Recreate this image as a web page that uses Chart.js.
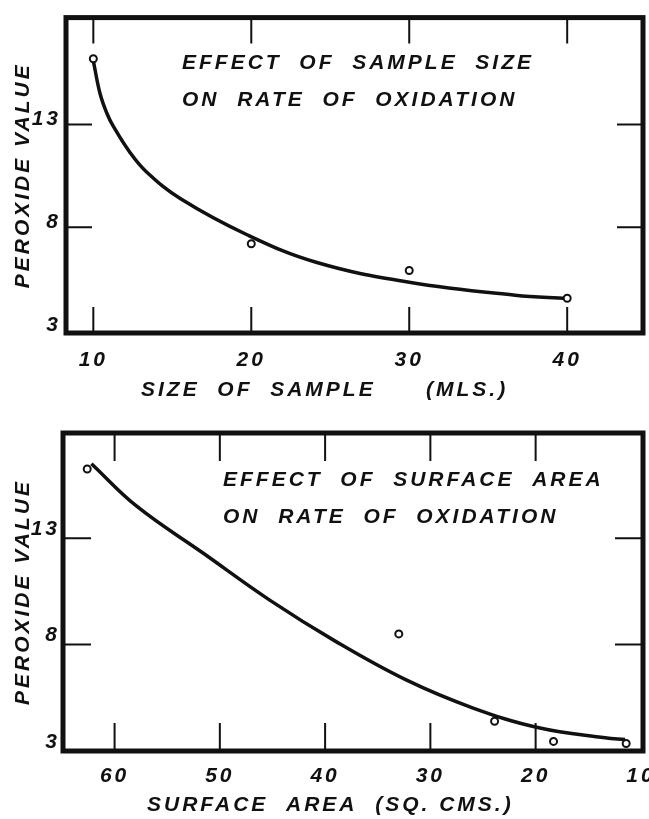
<!DOCTYPE html>
<html>
<head>
<meta charset="utf-8">
<script src="https://cdn.jsdelivr.net/npm/chart.js@4.4.1/dist/chart.umd.min.js"></script>
<style>
  html, body { margin: 0; padding: 0; background: #fff; }
  canvas { display: block; }
</style>
</head>
<body>
<canvas id="size-chart" width="649" height="410"></canvas>
<canvas id="area-chart" width="649" height="409"></canvas>
<script>
// top panel - size of sample (mls.)
const sizeTicks = [10, 20, 30, 40];
const sizeMl = [10, 20, 30, 40];
const sizePeroxide = [16.2, 7.2, 5.9, 4.55];
// points
const sizeCurveMl = [10, 10.42, 10.85, 11.26, 12.32, 13.37, 15.5, 19.7, 24.1, 30, 36.7, 40];
const sizeCurvePeroxide = [16.1, 14.52, 13.56, 12.92, 11.64, 10.69, 9.4, 7.65, 6.3, 5.33, 4.7, 4.54];

// bottom panel - surface area (sq. cms.)
const areaTicks = [10, 20, 30, 40, 50, 60];
const areaSqCm = [62.6, 33, 23.9, 18.3, 11.4];
const areaPeroxide = [16.25, 8.5, 4.4, 3.45, 3.35];
const areaCurveSqCm = [62.2, 57.9, 51.6, 45.3, 39, 32.35, 26, 19.7, 13.4, 11.5];
const areaCurvePeroxide = [16.5, 14.5, 12.3, 10.1, 8.15, 6.35, 5.03, 4.09, 3.62, 3.54];

const peroxideTicks = [3, 8, 13];

const ink = '#111';
const family = '"Liberation Sans", Arial, sans-serif';
const letterFont = { family, size: 21, style: 'italic', weight: 'bold' };
const spacing = '3px';

const toPoints = (xs, ys) => xs.map((x, i) => ({ x, y: ys[i] }));

// thick box, inner tick marks and the hand-lettered notes
const frame = {
  id: 'frame',
  beforeDraw(chart) {
    chart.ctx.letterSpacing = spacing;
  },
  afterDraw(chart, args, opts) {
    const { ctx, chartArea: a, scales: { x, y } } = chart;
    ctx.save();
    ctx.strokeStyle = ink;
    ctx.lineWidth = 2;
    ctx.beginPath();
    x.ticks.forEach(t => {
      const px = x.getPixelForValue(t.value);
      if (px < a.left + 6 || px > a.right - 6) return;
      ctx.moveTo(px, a.top);
      ctx.lineTo(px, a.top + opts.tick);
      ctx.moveTo(px, a.bottom);
      ctx.lineTo(px, a.bottom - opts.tick);
    });
    y.ticks.forEach(t => {
      const py = y.getPixelForValue(t.value);
      if (py < a.top + 6 || py > a.bottom - 6) return;
      ctx.moveTo(a.left, py);
      ctx.lineTo(a.left + opts.tick, py);
      ctx.moveTo(a.right, py);
      ctx.lineTo(a.right - opts.tick, py);
    });
    ctx.stroke();
    ctx.lineWidth = 5;
    ctx.strokeRect(a.left, a.top, a.right - a.left, a.bottom - a.top);

    ctx.fillStyle = ink;
    ctx.font = 'bold italic 21px ' + family;
    ctx.letterSpacing = spacing;
    ctx.textBaseline = 'middle';
    ctx.textAlign = 'left';
    opts.notes.forEach(n => ctx.fillText(n.text, n.x, n.y));
    ctx.restore();
  }
};

function panel(id, cfg) {
  return new Chart(document.getElementById(id), {
    type: 'scatter',
    data: {
      datasets: [{
        data: toPoints(cfg.pointX, cfg.pointY),
        pointRadius: 3.5,
        pointBorderWidth: 2,
        pointBorderColor: ink,
        pointBackgroundColor: '#fff',
        showLine: false
      }, {
        data: toPoints(cfg.curveX, cfg.curveY),
        showLine: true,
        borderColor: ink,
        borderWidth: 3.5,
        pointRadius: 0,
        tension: 0.4,
        fill: false
      }]
    },
    options: {
      responsive: false,
      animation: false,
      events: [],
      layout: { padding: cfg.padding },
      plugins: {
        legend: { display: false },
        tooltip: { enabled: false },
        frame: { tick: cfg.tick, notes: cfg.notes }
      },
      scales: {
        x: {
          type: 'linear',
          min: cfg.xMin,
          max: cfg.xMax,
          reverse: cfg.reverse,
          grid: { display: false, drawTicks: false },
          border: { display: false },
          afterBuildTicks: s => { s.ticks = cfg.xTicks.map(v => ({ value: v })); },
          afterFit: s => { s.height = cfg.xHeight; },
          ticks: { font: letterFont, color: ink, padding: cfg.xPad, autoSkip: false, maxRotation: 0 }
        },
        y: {
          type: 'linear',
          min: cfg.yMin,
          max: cfg.yMax,
          grid: { display: false, drawTicks: false },
          border: { display: false },
          afterBuildTicks: s => { s.ticks = peroxideTicks.map(v => ({ value: v })); },
          afterFit: s => { s.width = cfg.yWidth; },
          ticks: { font: letterFont, color: ink, padding: cfg.yPad, labelOffset: cfg.yLabelOffset },
          title: { display: true, text: 'PEROXIDE VALUE', font: letterFont, color: ink, padding: { top: 11, bottom: 0 } }
        }
      }
    },
    plugins: [frame]
  });
}

panel('size-chart', {
  pointX: sizeMl, pointY: sizePeroxide,
  curveX: sizeCurveMl, curveY: sizeCurvePeroxide,
  xTicks: sizeTicks, xMin: 8.27, xMax: 44.8, reverse: false,
  yMin: 2.86, yMax: 18.2,
  padding: { left: 0, right: 5, top: 13, bottom: 0 },
  xHeight: 77, yWidth: 66, xPad: 15, yPad: 5, yLabelOffset: -5, tick: 26,
  notes: [
    { text: 'EFFECT  OF  SAMPLE  SIZE', x: 182, y: 63 },
    { text: 'ON  RATE  OF  OXIDATION', x: 182, y: 100 },
    { text: 'SIZE  OF  SAMPLE', x: 141, y: 390 },
    { text: '(MLS.)', x: 426, y: 390 }
  ]
});

panel('area-chart', {
  pointX: areaSqCm, pointY: areaPeroxide,
  curveX: areaCurveSqCm, curveY: areaCurvePeroxide,
  xTicks: areaTicks, xMin: 9.8, xMax: 64.9, reverse: true,
  yMin: 3.0, yMax: 17.94,
  padding: { left: 0, right: 4, top: 23, bottom: 0 },
  xHeight: 68, yWidth: 63, xPad: 13, yPad: 3, yLabelOffset: -9, tick: 28,
  notes: [
    { text: 'EFFECT  OF  SURFACE  AREA', x: 223, y: 70 },
    { text: 'ON  RATE  OF  OXIDATION', x: 223, y: 107 },
    { text: 'SURFACE  AREA  (SQ. CMS.)', x: 147, y: 395 }
  ]
});
</script>
</body>
</html>
